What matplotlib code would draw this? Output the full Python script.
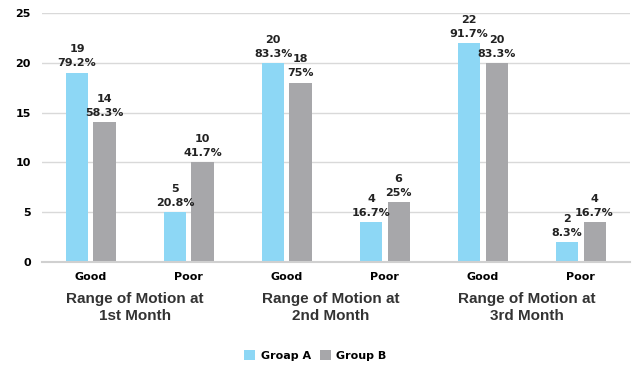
import matplotlib.pyplot as plt
import numpy as np

categories = ["Good", "Poor", "Good", "Poor", "Good", "Poor"]
groups = ["Range of Motion at\n1st Month", "Range of Motion at\n2nd Month", "Range of Motion at\n3rd Month"]
group_a = [19, 5, 20, 4, 22, 2]
group_b = [14, 10, 18, 6, 20, 4]
pct_a = ["79.2%", "20.8%", "83.3%", "16.7%", "91.7%", "8.3%"]
pct_b = ["58.3%", "41.7%", "75%", "25%", "83.3%", "16.7%"]

blue = "#8dd7f5"
gray = "#a7a7aa"

fig = plt.figure(figsize=(6.33, 3.67), dpi=100)
ax = fig.add_axes([0.066, 0.286, 0.929, 0.679])

x = np.arange(len(categories))
w = 0.225
off = 0.14
bars_a = ax.bar(x - off, group_a, w, color=blue, label="Groap A")
bars_b = ax.bar(x + off, group_b, w, color=gray, label="Group B")

for bars, vals, pcts in [(bars_a, group_a, pct_a), (bars_b, group_b, pct_b)]:
    for b, v, p in zip(bars, vals, pcts):
        ax.annotate(f"{v}\n{p}", (b.get_x() + b.get_width() / 2, v),
                    xytext=(0, 3), textcoords="offset points",
                    ha="center", va="bottom", fontsize=8, fontweight="bold",
                    linespacing=1.5, color="#222222")

ax.set_xlim(-0.5, len(categories) - 0.5)
ax.set_ylim(0, 25)
ax.set_yticks(range(0, 26, 5))
ax.set_xticks(x)
ax.set_xticklabels(categories, fontsize=8, fontweight="bold")
for t in ax.get_yticklabels():
    t.set_fontsize(8)
    t.set_fontweight("bold")
ax.tick_params(length=0, pad=8)
ax.tick_params(axis="x", pad=7)
ax.grid(axis="y", color="#d9d9d9", lw=1)
ax.set_axisbelow(True)
for s in ["top", "right", "left"]:
    ax.spines[s].set_visible(False)
ax.spines["bottom"].set_color("#d0d0d0")
ax.spines["bottom"].set_linewidth(1.5)

for i, g in enumerate(groups):
    ax.text(2 * i + 0.45, -0.12, g, transform=ax.get_xaxis_transform(),
            ha="center", va="top", fontsize=11, fontweight="bold",
            family="Liberation Sans", color="#333333", linespacing=1.3)

ax.legend(loc="center", bbox_to_anchor=(0.465, -0.375), ncol=2, frameon=False,
          prop={"weight": "bold", "size": 8}, handlelength=1, handleheight=1,
          columnspacing=0.8, handletextpad=0.5)

fig.savefig("out.png")
